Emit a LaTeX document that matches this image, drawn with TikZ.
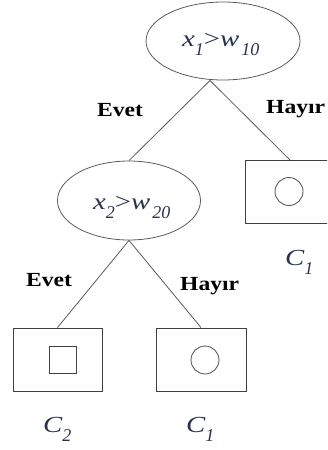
\documentclass[tikz,border=0pt]{standalone}
\usepackage{graphicx}
\usepackage{fontspec}
\setmainfont{Liberation Serif}
\usetikzlibrary{shapes.geometric}
\definecolor{tcol}{RGB}{40,50,78}
\definecolor{lcol}{RGB}{90,90,90}
\newcommand\sbs[1]{\raisebox{-9pt}{\fontsize{18}{18}\selectfont\itshape #1}}
\newcommand\wide[1]{\scalebox{1.25}[1]{#1}}
\newcommand\bigit{\fontsize{23}{23}\selectfont\itshape}
\newcommand\boldlbl[1]{\scalebox{1.18}[1]{\fontsize{20}{20}\selectfont\bfseries #1}}
\begin{document}
\begin{tikzpicture}[x=1pt,y=-1pt,
  edge/.style={draw=lcol,line width=0.8pt},
  testnode/.style={ellipse,draw=lcol,line width=0.8pt,inner sep=0pt},
  leafbox/.style={rectangle,draw=black!75,line width=0.9pt,inner sep=0pt,minimum width=89pt,minimum height=63pt},
  lbl/.style={anchor=base west,inner sep=0pt},
  cls/.style={anchor=base west,inner sep=0pt,text=tcol,font=\bigit},
  cond/.style={anchor=base west,inner sep=0pt,text=tcol,font=\bigit}]
\useasboundingbox (0,0) rectangle (327,450);
\clip (0,0) rectangle (327,450);
% test nodes
\node[testnode,minimum width=154pt,minimum height=78pt] (e1) at (223,41) {};
\node[testnode,minimum width=143pt,minimum height=79pt] (e2) at (129,200.5) {};
\node[cond] (t1) at (182,46.5) {\wide{x}\sbs{1}\wide{\upshape>}\wide{w}\kern2pt\sbs{10}};
\node[cond] (t2) at (93,209.5) {\wide{x}\sbs{2}\wide{\upshape>}\wide{w}\kern2pt\sbs{20}};
% leaves
\node[leafbox,minimum width=90pt] (b1) at (290,192) {};
\node[leafbox] (b2) at (57.5,359.5) {};
\node[leafbox,minimum width=90pt] (b3) at (201,359.5) {};
\node[rectangle,draw=black!75,line width=0.9pt,minimum size=27pt,inner sep=0pt] (sq) at (62.5,359.5) {};
\node[circle,draw=lcol,line width=0.9pt,minimum size=28pt,inner sep=0pt] (c1) at (289,191.5) {};
\node[circle,draw=lcol,line width=0.9pt,minimum size=28pt,inner sep=0pt] (c2) at (205,360) {};
% connectors
\coordinate (a1) at (210,80.5);
\draw[edge] (a1) -- (e2.north);
\draw[edge] (a1) -- (b1.north);
\draw[edge] (e2.south) -- (b2.north);
\draw[edge] (e2.south) -- (b3.north);
% labels
\node[lbl] (l1) at (97,116.5) {\boldlbl{Evet}};
\node[lbl] (l2) at (266,113) {\boldlbl{Hayır}};
\node[lbl] (l3) at (26,286.5) {\boldlbl{Evet}};
\node[lbl] (l4) at (180,290) {\boldlbl{Hayır}};
\node[cls] (k1) at (285,265) {\wide{C}\sbs{1}};
\node[cls] (k2) at (43,432) {\wide{C}\sbs{2}};
\node[cls] (k3) at (186,432) {\wide{C}\sbs{1}};
\end{tikzpicture}
\end{document}
